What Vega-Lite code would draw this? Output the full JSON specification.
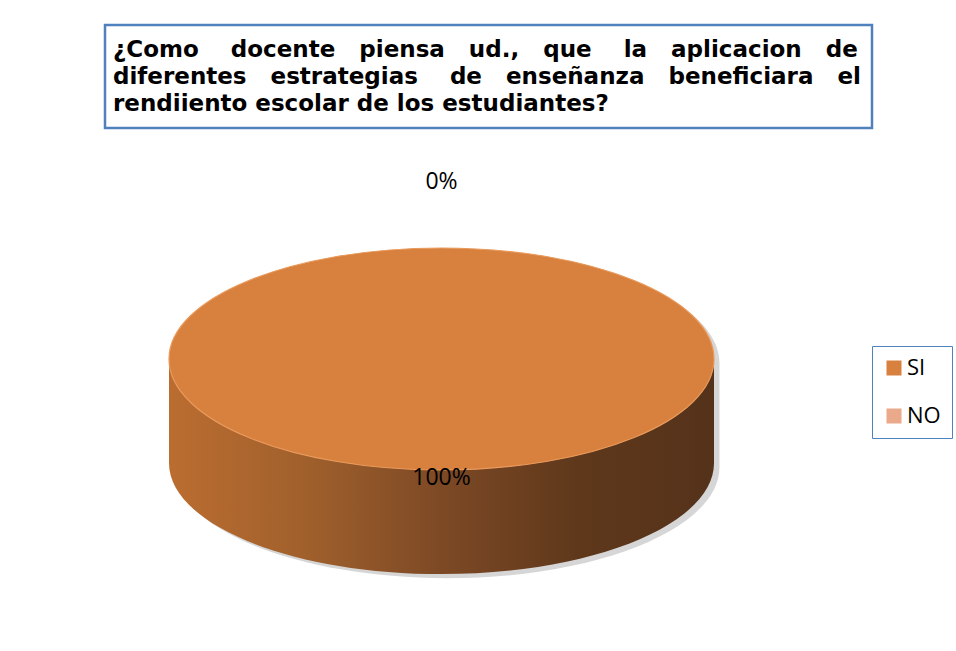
{
  "$schema": "https://vega.github.io/schema/vega-lite/v6.json",
  "padding": {"left": 103, "top": 23, "right": 5, "bottom": 5},
  "spacing": 9,
  "background": "white",
  "config": {"view": {"stroke": null}},
  "vconcat": [
    {
      "width": 767,
      "height": 103,
      "view": {"stroke": "#4f81bd", "strokeWidth": 2.5},
      "title": {
        "text": [
          "¿Como\u00a0\u00a0\u00a0\u00a0docente\u00a0\u00a0\u00a0piensa\u00a0\u00a0\u00a0ud.,\u00a0\u00a0\u00a0que\u00a0\u00a0\u00a0\u00a0la\u00a0\u00a0\u00a0aplicacion\u00a0\u00a0\u00a0de",
          "diferentes\u00a0\u00a0\u00a0estrategias\u00a0\u00a0\u00a0\u00a0de\u00a0\u00a0\u00a0enseñanza\u00a0\u00a0\u00a0beneficiara\u00a0\u00a0\u00a0el",
          "rendiiento escolar de los estudiantes?"
        ],
        "orient": "bottom",
        "anchor": "start",
        "frame": "group",
        "baseline": "top",
        "offset": -89,
        "dx": 8,
        "font": "DejaVu Sans",
        "fontWeight": "bold",
        "fontSize": 23,
        "lineHeight": 27,
        "color": "#000000"
      },
      "data": {"values": [{"titulo": ""}]},
      "mark": {"type": "text", "text": ""},
      "encoding": {}
    },
    {
      "width": 673,
      "height": 440,
      "data": {
        "values": [
          {"respuesta": "SI", "valor": 1},
          {"respuesta": "NO", "valor": 0}
        ]
      },
      "layer": [
        {
          "transform": [{"filter": "datum.valor > 0"}],
          "mark": {
            "type": "point",
            "filled": true,
            "opacity": 0.55,
            "size": 297025,
            "shape": "M -0.98 0.015 C -0.98 -0.21 -0.5323 -0.3923 0.02 -0.3923 C 0.5723 -0.3923 1.02 -0.21 1.02 0.015 L 1.02 0.397 C 1.02 0.622 0.5723 0.8043 0.02 0.8043 C -0.5323 0.8043 -0.98 0.622 -0.98 0.397 Z",
            "strokeWidth": 0,
            "fill": "#b5b5b5"
          },
          "encoding": {}
        },
        {
          "transform": [{"filter": "datum.valor > 0"}],
          "mark": {
            "type": "point",
            "filled": true,
            "opacity": 1,
            "size": 297025,
            "shape": "M -1 0 L -1 0.382 C -1 0.607 -0.5523 0.7893 0 0.7893 C 0.5523 0.7893 1 0.607 1 0.382 L 1 0 Z",
            "strokeWidth": 0,
            "fill": {
              "gradient": "linear",
              "x1": 0, "y1": 0, "x2": 1, "y2": 0,
              "stops": [
                {"offset": 0, "color": "#bb6d30"},
                {"offset": 0.25, "color": "#a0602c"},
                {"offset": 0.5, "color": "#7d4925"},
                {"offset": 0.75, "color": "#5f381b"},
                {"offset": 1, "color": "#54321a"}
              ]
            }
          },
          "encoding": {}
        },
        {
          "transform": [{"filter": "datum.valor > 0"}],
          "mark": {
            "type": "point",
            "filled": true,
            "opacity": 1,
            "size": 297025,
            "shape": "M -1 0 C -1 -0.225 -0.5523 -0.4073 0 -0.4073 C 0.5523 -0.4073 1 -0.225 1 0 C 1 0.225 0.5523 0.4073 0 0.4073 C -0.5523 0.4073 -1 0.225 -1 0 Z",
            "stroke": "#e99a5c",
            "strokeWidth": 1.2
          },
          "encoding": {
            "color": {
              "field": "respuesta",
              "type": "nominal",
              "scale": {"domain": ["SI", "NO"], "range": ["#d8803d", "#eaa98a"]},
              "legend": {
                "title": null,
                "orient": "none",
                "legendX": 767,
                "legendY": 321,
                "symbolType": "square",
                "symbolSize": 225,
                "symbolStrokeWidth": 0,
                "labelFont": "Open Sans",
                "labelFontSize": 22,
                "labelColor": "#000000",
                "labelOffset": 2,
                "rowPadding": 26,
                "padding": 11,
                "strokeColor": "#4f81bd"
              }
            }
          }
        },
        {
          "transform": [{"filter": "datum.respuesta === 'SI'"}],
          "mark": {"type": "text", "radius": 119, "font": "Open Sans", "fontSize": 23, "align": "center", "baseline": "middle", "color": "#000000"},
          "encoding": {
            "theta": {"field": "valor", "type": "quantitative", "stack": true},
            "text": {"field": "valor", "type": "quantitative", "format": ".0%"}
          }
        },
        {
          "transform": [{"filter": "datum.respuesta === 'NO'"}],
          "mark": {"type": "text", "radius": 177, "font": "Open Sans", "fontSize": 23, "align": "center", "baseline": "middle", "color": "#000000"},
          "encoding": {
            "theta": {"field": "valor", "type": "quantitative", "stack": true},
            "text": {"field": "valor", "type": "quantitative", "format": ".0%"}
          }
        }
      ]
    }
  ]
}
